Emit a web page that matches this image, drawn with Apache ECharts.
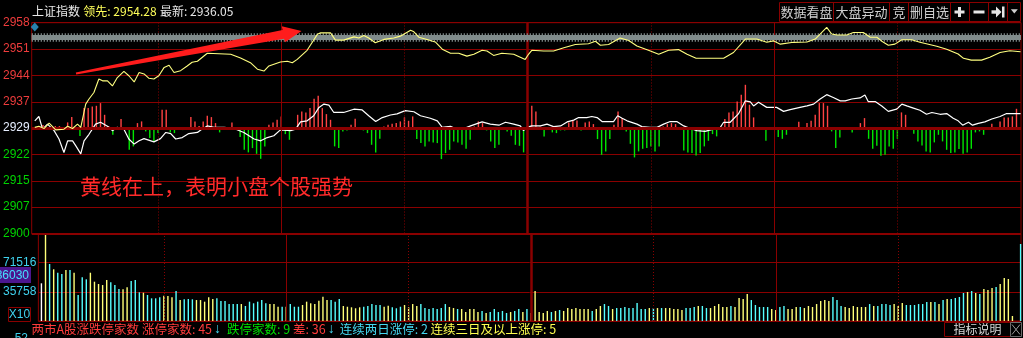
<!DOCTYPE html>
<html><head><meta charset="utf-8">
<script src="https://cdn.jsdelivr.net/npm/echarts@6/dist/echarts.min.js"></script>
<style>html,body{margin:0;padding:0;background:#000;overflow:hidden}#c{width:1023px;height:338px}</style>
</head><body><div id="c"></div>
<script>
// ---------- DATA ----------
const priceTicks = ['2900','2907','2915','2922','2929','2937','2944','2951','2958'];
const volTicks = ['', '35758', '71516', ''];
const gridMinutes = [30, 60, 90, 120, 150, 180, 210];
const bandLevel = 2954.0;
const startMarker = [0, 2956.8];

// yellow line (leading index), [minute, price]
const leadLine = [[0,2929.2],[1,2929.5],[2.3,2928.9],[3.5,2930.4],[5.1,2928.5],[7.1,2928.7],[8,2929.5],[9.2,2928.9],[10.4,2930.1],[11.2,2929.2],[12.4,2935.6],[13.2,2937],[14.4,2938.8],[15.6,2942.5],[16.5,2942],[17.7,2942],[18.9,2940.6],[20.1,2942.9],[21.7,2944.6],[22.9,2943.4],[24.2,2941.7],[25.4,2944.3],[26.6,2943.9],[27.8,2942.7],[29,2942.5],[30.2,2943.4],[31.5,2945.7],[32.7,2946.3],[33.9,2944.3],[35.5,2944.8],[37.1,2946.1],[38.3,2947.1],[39.6,2947.4],[42,2949.6],[47.7,2949.3],[50.1,2948.3],[52.5,2947],[54.2,2945.2],[55.8,2944.7],[57,2946.1],[59.8,2947.2],[61.5,2947.4],[62.7,2947],[63.9,2947.9],[66.3,2950.4],[68.8,2954.8],[69.6,2955.2],[72,2955.2],[73.2,2953.2],[75.2,2953.2],[77.7,2954.1],[78.9,2953.8],[80.1,2954.5],[81.3,2953.8],[82.9,2952.5],[85,2953.4],[87.4,2953.8],[89,2954.3],[91.5,2955.9],[92.3,2955.5],[93.5,2954],[95.5,2953.4],[97.5,2952.7],[99.2,2950.7],[101.2,2949.6],[103.2,2949.6],[105.2,2948.8],[106.9,2949.3],[108.9,2950.4],[110.1,2950.2],[111.7,2949],[113.7,2949.6],[116.6,2949.3],[118.2,2948.5],[119.4,2947.9],[120.2,2949.3],[121,2950.4],[123.9,2950.2],[126.3,2950.2],[128.8,2951.1],[131.6,2952],[134.8,2952.2],[136.5,2952.9],[137.7,2951.8],[139.7,2952],[142.5,2953.8],[144.6,2953.1],[146.6,2951.6],[149.4,2950.4],[151.9,2949.3],[154.3,2950.4],[156.7,2950.6],[158.8,2949.3],[161,2948.2],[167.7,2948.2],[170.1,2949.8],[173,2953.5],[175.8,2953.5],[178.2,2952.6],[179.8,2953],[181.5,2952.1],[184.7,2952.6],[188,2952.7],[190,2953.5],[192.8,2956.7],[194,2954.9],[195.3,2954.6],[197.7,2954.6],[199.3,2955.3],[201.7,2955.3],[203.4,2954],[205,2954],[206.6,2952.6],[207.8,2951.8],[209.4,2952.1],[211.1,2953.3],[213.5,2953.3],[215.5,2952.6],[219.6,2951.5],[222,2950.7],[224.8,2949.4],[226.1,2948.2],[228,2947.7],[230.5,2947.7],[232.5,2948.5],[235,2949.8],[237.4,2950.3],[240,2950]];

// white line (index), [minute, price]
const indexLine = [[0,2931],[1,2932.2],[1.9,2928.7],[3.1,2930.1],[4.7,2928.3],[5.9,2926],[7.1,2922.3],[8,2925.5],[9.2,2925.5],[10,2924.1],[11.2,2921.9],[12,2925.5],[13.2,2927.3],[14.8,2930.1],[16,2930.6],[17.7,2929.5],[18.9,2928.3],[20.1,2929.2],[21.7,2928.7],[22.9,2926],[24.2,2924.6],[25.4,2925.5],[26.6,2926.1],[29,2925.2],[30.6,2926.1],[31.9,2927.8],[33.1,2927.5],[34.3,2926],[35.9,2926.4],[37.5,2927.5],[39.6,2927.8],[40.4,2928.5],[42,2929.6],[43.6,2929.2],[46.1,2929.2],[48.5,2928.9],[50.9,2927.8],[53.4,2926],[55,2925.5],[56.6,2926.4],[58.2,2926.9],[59.8,2928.5],[62.3,2928.3],[63.5,2928.7],[64.7,2930.7],[66.3,2931],[67.9,2932.4],[69.2,2934.7],[70.4,2935.6],[71.6,2935.3],[72.8,2933.3],[75.2,2933.3],[77.7,2934.2],[79.7,2934],[81.3,2932.4],[83,2930.8],[84.6,2931.9],[86.6,2932.6],[88.2,2932.9],[90.2,2933.8],[92.3,2933.5],[93.9,2932.4],[96.3,2931.7],[98,2931],[99.2,2929.2],[101.2,2929.5],[102.4,2928.9],[104,2928.7],[106.1,2929.6],[108.9,2930.7],[110.9,2930.1],[113,2929.8],[114.6,2930.6],[116.6,2930.1],[118.2,2929.6],[119,2928.3],[119.8,2929.2],[121,2929.6],[123.1,2929.6],[124.7,2930.1],[126.3,2929.4],[128,2929.6],[129.6,2930.7],[131.2,2931.2],[132.4,2931.9],[134.4,2931.9],[135.6,2932.2],[136.9,2931.9],[138.1,2930.8],[140.9,2930.8],[141.9,2932.4],[143,2931.7],[144.2,2931],[146.6,2930.1],[147.8,2929.4],[149.8,2929.2],[151.5,2929.2],[153.1,2930.1],[154.7,2930.8],[156.3,2930.8],[158,2929.6],[159.6,2928.9],[161.2,2928.3],[163.2,2928.1],[165.2,2928.7],[166.9,2929.2],[167.7,2930.6],[169.3,2930.6],[171.3,2932.9],[173,2936.5],[174.2,2936.2],[175,2935.1],[176.2,2936.1],[178.2,2934.7],[180.6,2934.7],[182.3,2933.6],[183.9,2934.1],[186.3,2934.7],[188,2935.1],[189.6,2935.6],[191.2,2937],[192.8,2938.2],[194.4,2937.4],[196.1,2936.5],[197.3,2936.5],[198.9,2937],[200.9,2937.3],[202.1,2938.1],[202.9,2936.3],[204.6,2936.3],[206.2,2935.1],[207.8,2933.6],[209.8,2934.2],[211.1,2935.6],[212.3,2935.1],[213.9,2934.5],[215.5,2933.9],[217.1,2932.8],[218.4,2933.3],[220.4,2932.8],[222,2933],[223.6,2931.7],[224.8,2931],[225.9,2929.8],[227.3,2930.6],[228.3,2929.8],[229.7,2930.3],[231.3,2930.7],[233,2931.5],[235,2932.2],[236.6,2933],[239.4,2933],[240,2933]];

// red/green strength bars per minute 0..240
const strength = [
0,2,3,0,0,2,2,0,5.7,11,
0,-8,20,20,21.7,22.3,25,13.3,2,-6.7,
-2,9,-2,-21.7,-18.3,5,6.7,-3.3,-10,-13.3,
-5,18.3,18.3,-4.3,-5,-1,-2,1,11,6.7,
2,6.7,12.3,11,5,-4.3,-2,0,5.7,-2,
-9,-21.7,-24.3,-20,-25.7,-30.7,-18.3,3.3,5.7,8.3,
11.7,-6,-11.7,0,13.3,16.7,15.7,20,29.3,32.3,
20,14,8.3,-18.3,-20,-3.3,-2.3,3.3,9.3,-1,
-2.3,-5,-16.7,-24.3,-10.7,1.7,3.3,4.3,5,6.7,
10.7,7.3,11.7,-11,-15,-18.3,-13.3,-14.3,-15,-31,
-25,-21.7,-13.3,-14.3,-16.7,-20.7,-11.7,1.7,6.7,5,
-2.3,-13.3,-20,-16.7,-1,-3.3,-7.7,-16.7,-17.7,-24.3,
0,22.3,16.7,1.7,-8.3,-1,-4.3,-5,-2.3,-2.3,
5.7,7.7,7.7,-2.3,5.7,6.7,4,-11,-26.7,-23.3,
-11,3.3,16.7,10,-3.3,-15.7,-29.3,-23.3,-20.7,-20,
-18.3,-23.3,-18.3,1.7,4,5,4,-1,-22.3,-24.3,
-25,-27.3,-25,-18.3,-12.7,-6,-8.3,1,9,15.7,
16.7,26.7,33.3,43.3,23.3,10.7,-1,-1,-12.7,-1,
0,-9,-10.7,-6.7,-1,-1,6.3,-1,5,7.3,
13.3,25,25,22.3,-3.3,-20,-9.3,-1,-1,-4.3,
-1,5,10,-10.7,-20.7,-17.7,-27.7,-26.7,-18.3,-20.7,
-10.7,15.7,13.3,-1,-5.7,-13.3,-17.3,-23.3,-24.3,-14.3,
-6.7,-13.3,-21.7,-25,-24.3,-21,-25.7,-24.3,-20.7,-4.3,
-3.3,-6.7,-1,4.3,-1,6.7,10.7,10.7,11.7,19.3,
0];

// volume per minute 0..240
const volume = [
46200,106700,69900,63400,59200,57600,62500,62500,59200,31900,
53600,51100,59200,48200,45400,44100,50300,47400,44100,39200,
38900,41300,49000,50300,35200,34700,31900,27800,27800,29100,
31000,30700,29100,36800,25700,26600,27000,26600,25700,25700,
23700,29100,27000,27800,24500,24500,20800,20800,20800,20800,
18400,23700,21700,23700,25700,21700,20800,20800,17500,17500,
17500,20800,17500,17500,19600,23700,21700,20800,24900,29800,
25700,25700,23700,27000,18400,17500,16800,15600,16800,17500,
18400,20800,19600,19600,17500,18800,16800,15600,17500,19600,
16800,20800,18400,20800,15900,14700,15900,14700,15900,20800,
17200,15900,14700,14700,11000,14700,14700,11000,12300,9800,
11000,14700,11000,12300,9800,11000,12300,14700,11000,14700,
9800,36800,11000,9800,12300,11000,12300,13500,12300,15900,
14700,15900,14700,14700,14700,12300,14700,18400,20800,18400,
14700,15900,15900,17200,15900,15900,22100,14700,14700,15900,
15900,15900,15900,15900,15900,14700,14700,13500,15900,15900,
17200,18400,18400,15900,15900,18400,20800,17200,17200,18400,
17200,28200,27000,33100,25700,19600,17200,17200,17200,14700,
13500,17200,18400,14700,14700,17200,17200,15900,18400,17200,
20800,24500,25700,24500,29400,25700,18400,17200,15900,18400,
17200,17200,17200,20800,18400,18400,20800,20800,19600,20800,
18400,22100,19600,19600,19600,20800,20800,23300,23300,23300,
20800,25700,27000,27000,28200,29400,34300,35600,36800,34300,
33100,39200,38000,40500,41700,45400,52700,51500,6100,0,
94400];
// bar colour class per minute: w = open, y = up, c = down
const volClass = 'wycyccycyc'+'ccyyyyyccc'+'yycccycccc'+'yyycycccyy'+'yyyccccccy'+'ccccccyyyc'+'ycccyyyyyy'+'ycccyyyyyc'+'ccccyycccy'+'yyyccccccc'+'yycyyyyycy'+'cccccyccyc'+'yyyyycycyy'+'yyyyycyycc'+'yccccccccy'+'cycyyyyycc'+'cyccyyyyyc'+'yyyycccccy'+'yccyyycyyy'+'yyyycccyyy'+'yyycyccccy'+'yyccccccyc'+'ycyccccycy'+'cyyycyyyyy'+'c';

// ---------- STYLE ----------
const GRID = '#8a0000';
const NUM = '"Liberation Sans", Arial, sans-serif';
const CJK = '"Noto Sans CJK SC", sans-serif';
const VCOL = {w:'#ffffff', y:'#ffff78', c:'#55ffff'};
const tickColor = i => i < 4 ? '#00d400' : (i === 4 ? '#e6eeff' : '#ee3c3c');

const chart = echarts.init(document.getElementById('c'), null, {renderer:'canvas'});

const vLines = gridMinutes.map(m => ({
  xAxis: m,
  lineStyle: { color: GRID, width: m === 120 ? 2.5 : 1, type: (m % 60 === 0) ? 'solid' : [1, 2] }
}));

const option = {
  backgroundColor: '#000',
  animation: false,
  grid: [
    {left: 31, right: 2, top: 22.7, height: 210.8, show: true, borderColor: GRID, borderWidth: 1, backgroundColor: 'transparent'},
    {left: 31, right: 2, top: 233.5, height: 87.5, show: true, borderColor: GRID, borderWidth: 1, backgroundColor: 'transparent'}
  ],
  xAxis: [
    {type: 'value', gridIndex: 0, min: -0.75, max: 240.1, show: false},
    {type: 'value', gridIndex: 1, min: -0.75, max: 240.1, show: false}
  ],
  yAxis: [
    {type: 'value', gridIndex: 0, min: 2900, max: 2958, interval: 7.25,
      axisLine: {show: false}, axisTick: {show: false},
      splitLine: {show: true, lineStyle: {color: GRID, width: 1}},
      axisLabel: {margin: 2, fontSize: 12, fontFamily: NUM,
        formatter: v => priceTicks[Math.round((v - 2900) / 7.25)],
        color: (v) => tickColor(Math.round((Number(v) - 2900) / 7.25))}},
    {type: 'value', gridIndex: 0, min: -105.4, max: 105.4, show: false},
    {type: 'value', gridIndex: 1, min: 0, max: 107274, interval: 35758,
      axisLine: {show: false}, axisTick: {show: false},
      splitLine: {show: true, lineStyle: {color: GRID, width: 1}},
      axisLabel: {margin: 2, fontSize: 12, fontFamily: NUM, color: '#3fd2ee',
        formatter: v => volTicks[Math.round(v / 35758)]}}
  ],
  series: [
    {type: 'line', xAxisIndex: 0, yAxisIndex: 0, data: [], z: 1, silent: true,
      markLine: {silent: true, symbol: ['none', 'none'], label: {show: false}, animation: false,
        data: vLines.concat([
          {yAxis: 2929, lineStyle: {color: GRID, width: 3, type: 'solid'}},
          {yAxis: 2900, lineStyle: {color: GRID, width: 2, type: 'solid'}}
        ])}},
    {type: 'line', xAxisIndex: 1, yAxisIndex: 2, data: [], z: 1, silent: true,
      markLine: {silent: true, symbol: ['none', 'none'], label: {show: false}, animation: false, data: vLines}},
    {type: 'line', xAxisIndex: 0, yAxisIndex: 0, data: [], z: 2, silent: true,
      markLine: {silent: true, symbol: ['none', 'none'], label: {show: false}, animation: false,
        data: [
          {yAxis: bandLevel, lineStyle: {color: '#808c8c', width: 5, type: 'solid'}},
          {yAxis: bandLevel, lineStyle: {color: '#808c8c', width: 8.5, type: [1.2, 1.8]}}
        ]}},
    {name: 'strength', type: 'bar', xAxisIndex: 0, yAxisIndex: 1, z: 3, barWidth: 1.4,
      data: strength.map((v, i) => [i, v]),
      itemStyle: {color: p => p.value[1] >= 0 ? '#ff4242' : '#00e600'}},
    {name: 'volume', type: 'bar', xAxisIndex: 1, yAxisIndex: 2, z: 3, barWidth: 1.4,
      data: volume.map((v, i) => [i, v]),
      itemStyle: {color: p => VCOL[volClass[p.dataIndex]]}},
    {name: 'index', type: 'line', xAxisIndex: 0, yAxisIndex: 0, z: 4, data: indexLine,
      showSymbol: false, lineStyle: {color: '#ffffff', width: 1.2}},
    {name: 'lead', type: 'line', xAxisIndex: 0, yAxisIndex: 0, z: 5, data: leadLine,
      showSymbol: false, lineStyle: {color: '#ffff80', width: 1.1}},
    {name: 'marker', type: 'scatter', xAxisIndex: 0, yAxisIndex: 0, z: 6, data: [startMarker],
      symbol: 'diamond', symbolSize: [8, 9], itemStyle: {color: '#2fa3da'}}
  ],
  graphic: []
};

// ---------- decorations ----------
const g = [];
// header
g.push({type: 'text', x: 32, y: 11, z: 10, style: {
  text: '{w|上证指数} {y|领先: 2954.28} {w|最新: 2936.05}',
  verticalAlign: 'middle', align: 'left',
  rich: {w: {fill: '#e8e8e8', fontSize: 12, fontFamily: CJK}, y: {fill: '#ffff5a', fontSize: 12, fontFamily: CJK}}}});
// header buttons
g.push({type: 'rect', z: 10, shape: {x: 779.5, y: 2.5, width: 241, height: 19}, style: {fill: '#000', stroke: GRID, lineWidth: 1}});
[833.5, 889.5, 908.5, 950.5, 969.5, 988.5, 1007.5].forEach(x => g.push({type: 'line', z: 10, shape: {x1: x, y1: 2.5, x2: x, y2: 21.5}, style: {stroke: GRID, lineWidth: 1}}));
[['数据看盘', 806.5], ['大盘异动', 861.5], ['竞', 899], ['删自选', 929.5]].forEach(([t, x]) =>
  g.push({type: 'text', x: x, y: 12, z: 11, style: {text: t, fill: '#cfcfcf', font: '13px ' + CJK, align: 'center', verticalAlign: 'middle'}}));
const BTN = '#e6e6e6';
g.push({type: 'rect', z: 11, shape: {x: 954.5, y: 10.5, width: 10, height: 3}, style: {fill: BTN}});
g.push({type: 'rect', z: 11, shape: {x: 958, y: 7, width: 3, height: 10}, style: {fill: BTN}});
g.push({type: 'rect', z: 11, shape: {x: 973.5, y: 10.5, width: 11, height: 3}, style: {fill: BTN}});
g.push({type: 'rect', z: 11, shape: {x: 991.5, y: 10.3, width: 5, height: 3.4}, style: {fill: BTN}});
g.push({type: 'polygon', z: 11, shape: {points: [[996, 6.5], [1001.5, 12], [996, 17.5]]}, style: {fill: BTN}});
g.push({type: 'rect', z: 11, shape: {x: 1002, y: 6.5, width: 2.5, height: 11}, style: {fill: BTN}});
g.push({type: 'polygon', z: 11, shape: {points: [[1010.8, 9.3], [1017.8, 9.3], [1014.3, 13.6]]}, style: {fill: '#cfcfcf'}});
// annotation arrow & text
g.push({type: 'polygon', z: 12, shape: {points: [[75.8, 72.5], [282.5, 29.9], [281.8, 26.2], [301.5, 31], [285, 42.3], [284.1, 38.7], [76.2, 74.6]]}, style: {fill: '#ff1c1c'}});
g.push({type: 'text', x: 80, y: 186, z: 12, style: {text: '黄线在上，表明小盘个股强势', fill: '#ff2a2a', font: '21px ' + CJK, verticalAlign: 'middle', align: 'left'}});
// left volume readouts
g.push({type: 'rect', z: 10, shape: {x: 0, y: 267, width: 31, height: 16}, style: {fill: '#4c168e'}});
g.push({type: 'text', x: 29, y: 275.5, z: 11, style: {text: '36030', fill: '#45e0ff', font: '12px ' + NUM, align: 'right', verticalAlign: 'middle'}});
g.push({type: 'rect', z: 10, shape: {x: 8.5, y: 307.5, width: 22, height: 14}, style: {fill: 'none', stroke: GRID, lineWidth: 1}});
g.push({type: 'text', x: 19.5, y: 314.8, z: 11, style: {text: 'X10', fill: '#3fd2ee', font: '12px ' + NUM, align: 'center', verticalAlign: 'middle'}});
g.push({type: 'text', x: 28, y: 333, z: 11, style: {text: '52', fill: '#3fd2ee', font: '12px ' + NUM, align: 'right', verticalAlign: 'top'}});
// status bar
g.push({type: 'text', x: 31.5, y: 329.5, z: 11, style: {
  text: '{r|两市A股涨跌停家数 涨停家数: 45}{a|↓}{g|跌停家数: 9 }{r|差: 36}{b|↓}{c|连续两日涨停: 2\u2009}{y|连续三日及以上涨停: 5}',
  verticalAlign: 'middle', align: 'left',
  rich: {
    r: {fill: '#ff3c3c', fontSize: 12.5, fontFamily: CJK},
    g: {fill: '#00e000', fontSize: 12.5, fontFamily: CJK},
    c: {fill: '#45d8f0', fontSize: 12.5, fontFamily: CJK},
    y: {fill: '#ffff50', fontSize: 12.5, fontFamily: CJK},
    a: {fill: '#45d8f0', fontSize: 14, fontWeight: 'bold', fontFamily: NUM, padding: [0, 6, 0, 2]},
    b: {fill: '#45d8f0', fontSize: 14, fontWeight: 'bold', fontFamily: NUM, padding: [0, 5, 0, 2]}
  }}});
g.push({type: 'rect', z: 10, shape: {x: 944.5, y: 322.5, width: 66, height: 14}, style: {fill: 'none', stroke: GRID, lineWidth: 1}});
g.push({type: 'text', x: 977.5, y: 329.5, z: 11, style: {text: '指标说明', fill: '#d8d8d8', font: '12px ' + CJK, align: 'center', verticalAlign: 'middle'}});
g.push({type: 'rect', z: 10, shape: {x: 1010.5, y: 322.5, width: 11, height: 14}, style: {fill: 'none', stroke: '#6a6a6a', lineWidth: 1}});
g.push({type: 'line', z: 11, shape: {x1: 1012, y1: 324.5, x2: 1020, y2: 334.5}, style: {stroke: '#9a9a9a', lineWidth: 1}});
g.push({type: 'line', z: 11, shape: {x1: 1020, y1: 324.5, x2: 1012, y2: 334.5}, style: {stroke: '#9a9a9a', lineWidth: 1}});
option.graphic = g;

chart.setOption(option);
</script>
</body></html>
